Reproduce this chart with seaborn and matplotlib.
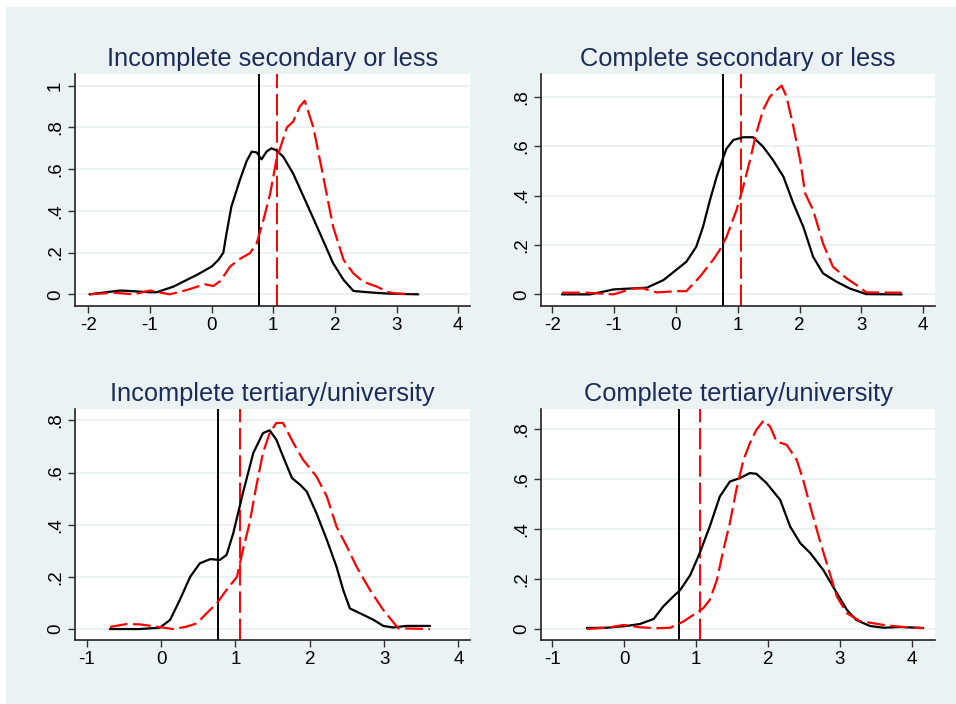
import matplotlib
matplotlib.use("Agg")
import matplotlib.pyplot as plt
import matplotlib.patches as mpatches
import seaborn as sns
import pandas as pd

sns.set_style("white")
plt.rcParams['font.family'] = ['Liberation Sans', 'DejaVu Sans']

titles = ["Incomplete secondary or less", "Complete secondary or less",
          "Incomplete tertiary/university", "Complete tertiary/university"]

vline_black = 0.76
vline_red = 1.06

# Panel 1
p1_black_x = [-1.98, -1.49, -1.40, -1.0, -0.89, -0.62, -0.35, -0.24, 0.0, 0.11, 0.19, 0.24, 0.32, 0.46, 0.57, 0.65, 0.73, 0.81, 0.89, 0.97, 1.05, 1.16, 1.32, 1.54, 1.76, 1.97, 2.14, 2.30, 2.62, 2.89, 3.35]
p1_black_y = [0.0, 0.018, 0.017, 0.01, 0.01, 0.037, 0.077, 0.093, 0.133, 0.165, 0.20, 0.29, 0.42, 0.55, 0.64, 0.684, 0.68, 0.647, 0.684, 0.70, 0.69, 0.66, 0.58, 0.436, 0.29, 0.149, 0.069, 0.016, 0.008, 0.003, 0.0]
p1_red_x = [-1.97, -1.59, -1.27, -1.0, -0.68, -0.41, -0.11, 0.03, 0.14, 0.30, 0.46, 0.62, 0.73, 0.84, 0.95, 1.05, 1.22, 1.32, 1.43, 1.51, 1.65, 1.81, 1.97, 2.14, 2.30, 2.46, 2.68, 2.84, 2.95, 3.24]
p1_red_y = [0.0, 0.008, 0.0, 0.018, 0.0, 0.02, 0.048, 0.04, 0.064, 0.133, 0.17, 0.197, 0.244, 0.356, 0.484, 0.644, 0.80, 0.827, 0.90, 0.928, 0.80, 0.564, 0.324, 0.165, 0.10, 0.06, 0.037, 0.013, 0.005, 0.0]

# Panel 2
p2_black_x = [-1.84, -1.39, -1.23, -1.01, -0.80, -0.47, -0.20, 0.01, 0.17, 0.33, 0.44, 0.55, 0.66, 0.77, 0.82, 0.93, 1.09, 1.25, 1.41, 1.57, 1.74, 1.90, 2.06, 2.22, 2.38, 2.60, 2.81, 3.08, 3.65]
p2_black_y = [0.0, 0.0, 0.008, 0.02, 0.023, 0.027, 0.058, 0.10, 0.132, 0.193, 0.274, 0.38, 0.476, 0.557, 0.59, 0.625, 0.636, 0.636, 0.598, 0.544, 0.476, 0.368, 0.274, 0.152, 0.085, 0.051, 0.024, 0.001, 0.0]
p2_red_x = [-1.84, -1.44, -1.01, -0.69, -0.53, -0.31, 0.01, 0.17, 0.39, 0.60, 0.71, 0.82, 0.98, 1.09, 1.20, 1.30, 1.41, 1.52, 1.63, 1.71, 1.79, 1.90, 2.01, 2.09, 2.22, 2.38, 2.54, 2.76, 2.92, 3.08, 3.65]
p2_red_y = [0.007, 0.007, 0.0, 0.024, 0.024, 0.008, 0.013, 0.013, 0.072, 0.139, 0.18, 0.233, 0.341, 0.436, 0.544, 0.652, 0.746, 0.80, 0.827, 0.845, 0.80, 0.679, 0.544, 0.409, 0.341, 0.206, 0.112, 0.065, 0.038, 0.008, 0.007]

# Panel 3
p3_black_x = [-0.69, -0.29, -0.02, 0.12, 0.25, 0.39, 0.52, 0.66, 0.79, 0.88, 0.97, 1.10, 1.24, 1.37, 1.46, 1.55, 1.64, 1.76, 1.87, 1.96, 2.09, 2.23, 2.36, 2.45, 2.54, 2.68, 2.86, 2.99, 3.12, 3.30, 3.62]
p3_black_y = [0.0, 0.0, 0.005, 0.035, 0.111, 0.20, 0.252, 0.268, 0.265, 0.284, 0.367, 0.521, 0.675, 0.751, 0.762, 0.726, 0.662, 0.579, 0.553, 0.527, 0.444, 0.342, 0.239, 0.15, 0.079, 0.06, 0.035, 0.012, 0.006, 0.012, 0.012]
p3_red_x = [-0.69, -0.47, -0.29, -0.06, 0.16, 0.34, 0.48, 0.61, 0.75, 0.88, 1.02, 1.10, 1.19, 1.28, 1.37, 1.46, 1.55, 1.64, 1.78, 1.91, 2.09, 2.23, 2.36, 2.50, 2.63, 2.81, 2.99, 3.19, 3.62]
p3_red_y = [0.008, 0.019, 0.018, 0.009, 0.0, 0.009, 0.022, 0.06, 0.099, 0.15, 0.20, 0.303, 0.406, 0.547, 0.675, 0.751, 0.79, 0.79, 0.713, 0.649, 0.585, 0.508, 0.393, 0.316, 0.239, 0.15, 0.073, 0.003, 0.0]

# Panel 4
p4_black_x = [-0.52, -0.24, 0.03, 0.22, 0.41, 0.54, 0.68, 0.78, 0.92, 1.05, 1.19, 1.33, 1.47, 1.61, 1.75, 1.84, 1.98, 2.17, 2.31, 2.45, 2.59, 2.77, 2.96, 3.10, 3.23, 3.42, 3.61, 3.84, 4.16]
p4_black_y = [0.004, 0.005, 0.012, 0.02, 0.04, 0.089, 0.129, 0.156, 0.216, 0.303, 0.409, 0.529, 0.589, 0.603, 0.623, 0.62, 0.583, 0.516, 0.409, 0.343, 0.303, 0.236, 0.143, 0.076, 0.036, 0.012, 0.005, 0.008, 0.004]
p4_red_x = [-0.52, -0.24, -0.01, 0.22, 0.45, 0.64, 0.82, 0.96, 1.10, 1.19, 1.29, 1.38, 1.47, 1.56, 1.66, 1.75, 1.84, 1.94, 2.03, 2.12, 2.26, 2.40, 2.49, 2.59, 2.72, 2.86, 2.96, 3.10, 3.28, 3.61, 3.84, 4.16]
p4_red_y = [0.0, 0.005, 0.016, 0.007, 0.003, 0.005, 0.029, 0.056, 0.083, 0.116, 0.196, 0.316, 0.423, 0.556, 0.676, 0.743, 0.796, 0.833, 0.809, 0.749, 0.736, 0.676, 0.596, 0.489, 0.356, 0.223, 0.129, 0.063, 0.032, 0.016, 0.009, 0.003]

series = [
    (p1_black_x, p1_black_y, p1_red_x, p1_red_y),
    (p2_black_x, p2_black_y, p2_red_x, p2_red_y),
    (p3_black_x, p3_black_y, p3_red_x, p3_red_y),
    (p4_black_x, p4_black_y, p4_red_x, p4_red_y),
]

x_ticks = [[-2, -1, 0, 1, 2, 3, 4], [-2, -1, 0, 1, 2, 3, 4],
           [-1, 0, 1, 2, 3, 4], [-1, 0, 1, 2, 3, 4]]
y_ticks = [[0, 0.2, 0.4, 0.6, 0.8, 1.0], [0, 0.2, 0.4, 0.6, 0.8],
           [0, 0.2, 0.4, 0.6, 0.8], [0, 0.2, 0.4, 0.6, 0.8]]
y_tick_labels = [["0", ".2", ".4", ".6", ".8", "1"], ["0", ".2", ".4", ".6", ".8"],
                 ["0", ".2", ".4", ".6", ".8"], ["0", ".2", ".4", ".6", ".8"]]
x_lims = [(-2.216, 4.19), (-2.18, 4.19), (-1.16, 4.157), (-1.158, 4.325)]
y_lims = [(-0.056, 1.056), (-0.047, 0.892), (-0.042, 0.8435), (-0.044, 0.879)]

W, H = 956, 704
bg = "#EAF2F3"
fig = plt.figure(figsize=(W / 100, H / 100), dpi=100)
fig.patch.set_facecolor("white")
fig.patches.append(mpatches.Rectangle((6 / W, 0), 1 - 6 / W, 1 - 7 / H,
                                      transform=fig.transFigure, facecolor=bg,
                                      edgecolor="none", zorder=-10))

# axes boxes in pixel coords: left, right, top, bottom
boxes = [(75, 470, 74, 306), (541, 935, 74, 306), (75, 470, 409, 640), (541, 935, 409, 640)]

for i, (l, r, t, b) in enumerate(boxes):
    ax = fig.add_axes([l / W, 1 - b / H, (r - l) / W, (b - t) / H])
    ax.set_facecolor("white")
    bx, by, rx, ry = series[i]
    dfb = pd.DataFrame({"x": bx, "y": by})
    dfr = pd.DataFrame({"x": rx, "y": ry})
    for yt in y_ticks[i]:
        ax.axhline(yt, color=bg, lw=1.5, zorder=0)
    ax.axvline(vline_black, color="black", lw=1.4, zorder=2)
    ax.axvline(vline_red, color="red", lw=1.4, dashes=(11, 3), zorder=2)
    sns.lineplot(data=dfb, x="x", y="y", ax=ax, color="black", lw=1.6,
                 sort=False, estimator=None, zorder=3)
    sns.lineplot(data=dfr, x="x", y="y", ax=ax, color="red", lw=1.6,
                 sort=False, estimator=None, zorder=3, dashes=False)
    ax.lines[-1].set_dashes((8, 2.5))
    ax.set_xlim(*x_lims[i])
    ax.set_ylim(*y_lims[i])
    ax.set_xticks(x_ticks[i])
    ax.set_xticklabels([str(v) for v in x_ticks[i]])
    ax.set_yticks(y_ticks[i])
    ax.set_yticklabels(y_tick_labels[i], rotation=90, va="center")
    ax.set_xlabel("")
    ax.set_ylabel("")
    ax.tick_params(axis="both", direction="out", length=5, width=1,
                   color="#333333", labelsize=13.5, labelcolor="black",
                   bottom=True, left=True, pad=3)
    for s in ["top", "right"]:
        ax.spines[s].set_visible(False)
    for s in ["left", "bottom"]:
        ax.spines[s].set_color("#222222")
        ax.spines[s].set_linewidth(1.2)
    ax.set_title(titles[i], fontsize=18.3, color="#1C2B5A", pad=6)

fig.savefig("out.png", dpi=100, facecolor=fig.get_facecolor())
